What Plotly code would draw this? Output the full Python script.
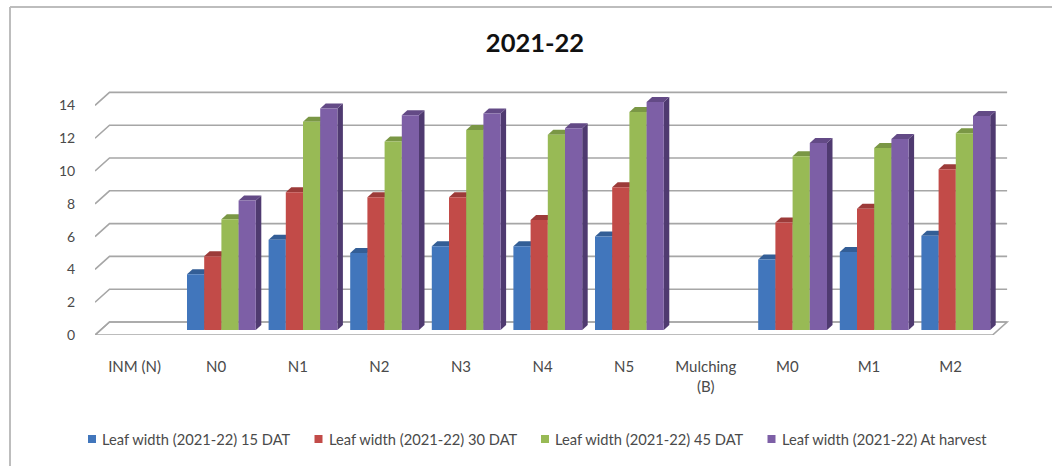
import plotly.graph_objects as go

categories = ["INM (N)", "N0", "N1", "N2", "N3", "N4", "N5", "Mulching<br>(B)", "M0", "M1", "M2"]
y_ticks = [0, 2, 4, 6, 8, 10, 12, 14]

# Empty treatment headings are left as None so that no bar is drawn for them.
leaf_15_dat = [None, 3.4, 5.5, 4.7, 5.1, 5.1, 5.7, None, 4.3, 4.75, 5.75]
leaf_30_dat = [None, 4.5, 8.4, 8.1, 8.1, 6.7, 8.7, None, 6.55, 7.4, 9.8]
leaf_45_dat = [None, 6.75, 12.7, 11.5, 12.2, 11.9, 13.3, None, 10.6, 11.1, 12.0]
leaf_harvest = [None, 7.9, 13.5, 13.1, 13.2, 12.3, 13.9, None, 11.4, 11.65, 13.05]

series_names = [
    "Leaf width (2021-22) 15 DAT",
    "Leaf width (2021-22) 30 DAT",
    "Leaf width (2021-22) 45 DAT",
    "Leaf width (2021-22) At harvest",
]
series_values = [leaf_15_dat, leaf_30_dat, leaf_45_dat, leaf_harvest]
face_colors = ["#4176BC", "#C24B48", "#98BA55", "#7D5FA6"]
side_colors = ["#2A5080", "#84302E", "#67803A", "#4F3A70"]
top_colors = ["#335E96", "#9C3B39", "#7A9745", "#634A86"]

# Pixel scale of the plotting box
WIDTH, HEIGHT = 1052, 466
LEFT, RIGHT, TOP, BOTTOM = 95, 1012, 85, 335
PX_PER_CATEGORY = 81.6
PX_PER_UNIT = 16.4
x_lo = -0.5
x_hi = x_lo + (RIGHT - LEFT) / PX_PER_CATEGORY
y_hi = (BOTTOM - TOP) / PX_PER_UNIT
n_categories = len(categories)


def oblique(x, y, depth_x, depth_y):
    """Shift an axis position backwards along the oblique depth direction (pixels)."""
    return x + depth_x / PX_PER_CATEGORY, y + depth_y / PX_PER_UNIT


def polygon(points):
    return "M" + "L".join(f"{x:.4f},{y:.4f}" for x, y in points) + "Z"


def polyline(points):
    return "M" + "L".join(f"{x:.4f},{y:.4f}" for x, y in points)


def paper_x(px):
    return (px - LEFT) / (RIGHT - LEFT)


def paper_y(px):
    return (BOTTOM - px) / (BOTTOM - TOP)


shapes = []
GRID = "#A6A6A6"

# Back wall gridlines with their slanted run on the left wall
for tick in y_ticks:
    shapes.append(dict(
        type="path", layer="below", xref="x", yref="y",
        path=polyline([
            (x_lo, tick),
            oblique(x_lo, tick, 14.5, 13),
            oblique(x_lo + n_categories, tick, 14.5, 13),
        ]),
        line=dict(color=GRID, width=1.6),
    ))

# Floor outline
shapes.append(dict(
    type="path", layer="below", xref="x", yref="y",
    path=polygon([
        (x_lo, 0),
        oblique(x_lo, 0, 14.5, 13),
        oblique(x_lo + n_categories, 0, 14.5, 13),
        (x_lo + n_categories, 0),
    ]),
    line=dict(color=GRID, width=1.6),
))

# Bars stand partway back on the floor
FACE_DX, FACE_DY = 4, 5
DEPTH_DX, DEPTH_DY = 5.5, 5
BAR_WIDTH = 17.2 / PX_PER_CATEGORY
face_shift = oblique(0, 0, FACE_DX, FACE_DY)

# Side and top faces sit under the bar traces, so each front face hides what is behind it
for s, values in enumerate(series_values):
    for i, value in enumerate(values):
        if value is None:
            continue
        x0 = i + face_shift[0] + (s - 2) * BAR_WIDTH
        x1 = x0 + BAR_WIDTH
        y0 = face_shift[1]
        y1 = y0 + value
        shapes.append(dict(
            type="path", layer="below", xref="x", yref="y",
            path=polygon([
                (x1, y0), (x1, y1),
                oblique(x1, y1, DEPTH_DX, DEPTH_DY),
                oblique(x1, y0, DEPTH_DX, DEPTH_DY),
            ]),
            fillcolor=side_colors[s], line=dict(width=0),
        ))
        shapes.append(dict(
            type="path", layer="below", xref="x", yref="y",
            path=polygon([
                (x0, y1), (x1, y1),
                oblique(x1, y1, DEPTH_DX, DEPTH_DY),
                oblique(x0, y1, DEPTH_DX, DEPTH_DY),
            ]),
            fillcolor=top_colors[s], line=dict(width=0),
        ))

# Chart frame: top and left edges only
FRAME = "#BDBDBD"
shapes.append(dict(type="line", xref="paper", yref="paper", layer="below",
                   x0=paper_x(10), x1=paper_x(WIDTH), y0=paper_y(7), y1=paper_y(7),
                   line=dict(color=FRAME, width=2)))
shapes.append(dict(type="line", xref="paper", yref="paper", layer="below",
                   x0=paper_x(10), x1=paper_x(10), y0=paper_y(7), y1=paper_y(HEIGHT),
                   line=dict(color=FRAME, width=2)))

# Key row: a small square tight against each label
KEY_LEFT = [88, 314.5, 541, 767.5]
KEY_SIZE = 8
KEY_GAP = 5
KEY_ROW = 439
annotations = []
for s, name in enumerate(series_names):
    shapes.append(dict(
        type="rect", xref="paper", yref="paper", layer="above",
        x0=paper_x(KEY_LEFT[s]), x1=paper_x(KEY_LEFT[s] + KEY_SIZE),
        y0=paper_y(KEY_ROW + KEY_SIZE / 2), y1=paper_y(KEY_ROW - KEY_SIZE / 2),
        fillcolor=face_colors[s], line=dict(width=0),
    ))
    annotations.append(dict(
        text=name, xref="paper", yref="paper", showarrow=False,
        x=paper_x(KEY_LEFT[s] + KEY_SIZE + KEY_GAP), y=paper_y(KEY_ROW),
        xanchor="left", yanchor="middle", xshift=0,
        font=dict(size=14.7), borderpad=0,
    ))

fig = go.Figure()
for s, values in enumerate(series_values):
    fig.add_trace(go.Bar(
        name=series_names[s],
        x=[i + face_shift[0] + (s - 1.5) * BAR_WIDTH for i in range(n_categories)],
        y=values,
        base=face_shift[1],
        width=BAR_WIDTH,
        marker=dict(color=face_colors[s], line=dict(width=0)),
    ))

fig.update_layout(
    width=WIDTH, height=HEIGHT,
    autosize=False,
    showlegend=False,
    margin=dict(l=LEFT, r=WIDTH - RIGHT, t=TOP, b=HEIGHT - BOTTOM, autoexpand=False),
    paper_bgcolor="white", plot_bgcolor="white",
    barmode="overlay",
    font=dict(family="Lato", color="#4A4A4A", size=13),
    title=dict(text="<b>2021-22</b>", x=535 / WIDTH, xanchor="center", y=1 - 43 / HEIGHT,
               yanchor="middle", font=dict(family="Lato", size=25.5, color="#111111")),
    xaxis=dict(
        range=[x_lo, x_hi], tickmode="array",
        tickvals=[i - 0.015 for i in range(n_categories)],
        ticktext=categories, showgrid=False, zeroline=False, showline=False,
        ticks="outside", ticklen=18, tickcolor="rgba(0,0,0,0)",
        tickfont=dict(size=15),
    ),
    yaxis=dict(
        range=[0, y_hi], tickmode="array", tickvals=y_ticks, showgrid=False,
        zeroline=False, showline=False, ticks="outside", ticklen=16,
        tickcolor="rgba(0,0,0,0)", tickfont=dict(size=14),
    ),
    annotations=annotations,
    shapes=shapes,
)

fig.write_html("out.html", config=dict(displayModeBar=False))
